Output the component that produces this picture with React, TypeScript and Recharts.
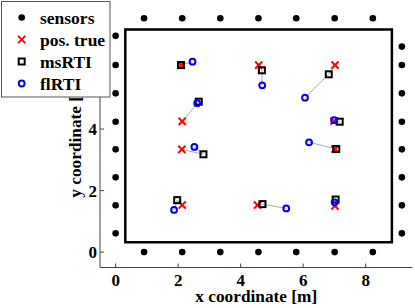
import React from 'react';
import { ScatterChart, Scatter, XAxis, YAxis, ReferenceArea } from 'recharts';

// ---- data ----
const xTicks = [0, 2, 4, 6, 8];
const yTicksLeft = [0, 2, 4];
const yTicksRight = [0, 2, 4, 6];

const sensorRowX = [0.91, 2.13, 3.35, 4.57, 5.78, 7.01, 8.23];
const sensorTopY = 7.6;
const sensorBottomY = 0;
const sensorLeftX = 0;
const sensorLeftY = [0.61, 1.52, 2.43, 3.34, 4.24, 5.16, 6.08, 7.03];
const sensorRightX = 9.16;
const sensorRightY = [0.61, 1.52, 2.43, 3.34, 4.24, 5.16, 6.08, 6.68];

const trueX = [2.1, 4.58, 7.02, 2.13, 6.99, 2.12, 7.02, 2.13, 4.54, 7.02];
const trueY = [6.08, 6.08, 6.08, 4.25, 4.26, 3.34, 3.35, 1.53, 1.53, 1.5];
const msX = [2.09, 4.68, 6.82, 2.66, 7.17, 2.81, 7.06, 1.97, 4.7, 7.04];
const msY = [6.08, 5.91, 5.78, 4.89, 4.24, 3.18, 3.35, 1.69, 1.56, 1.71];
const flX = [2.46, 4.69, 6.06, 2.61, 6.99, 2.52, 6.19, 1.87, 5.46, 7.01];
const flY = [6.19, 5.42, 5.02, 4.84, 4.29, 3.42, 3.57, 1.37, 1.42, 1.62];

const roomBounds = [0.31, 0.32, 8.84, 7.24]; // x1, y1, x2, y2

const legendLabels = ['sensors', 'pos. true', 'msRTI', 'flRTI'];

// ---- derived tables ----
const sensors = [
  ...sensorRowX.map((x) => ({ x, y: sensorTopY })),
  ...sensorRowX.map((x) => ({ x, y: sensorBottomY })),
  ...sensorLeftY.map((y) => ({ x: sensorLeftX, y })),
  ...sensorRightY.map((y) => ({ x: sensorRightX, y })),
];
const truePts = trueX.map((x, i) => ({ x, y: trueY[i] }));
const msPts = msX.map((x, i) => ({ x, y: msY[i] }));
const flPts = flX.map((x, i) => ({ x, y: flY[i] }));
const groups = trueX.map((_, i) => [truePts[i], msPts[i], flPts[i]]);

const FONT = '"Liberation Serif", "Times New Roman", serif';
const AXIS = '#444';
const GAP_X = 6.8;
const GAP_Y = 3;

const Dot = (p: any) => <circle cx={p.cx} cy={p.cy} r={3.3} fill="#000" />;
const Cross = (p: any) => (
  <g stroke="#ff0000" strokeWidth={2}>
    <line x1={p.cx - 3.6} y1={p.cy - 3.6} x2={p.cx + 3.6} y2={p.cy + 3.6} />
    <line x1={p.cx - 3.6} y1={p.cy + 3.6} x2={p.cx + 3.6} y2={p.cy - 3.6} />
  </g>
);
const Square = (p: any) => (
  <rect x={p.cx - 3} y={p.cy - 3} width={6} height={6} fill="none" stroke="#000" strokeWidth={2} />
);
const Ring = (p: any) => <circle cx={p.cx} cy={p.cy} r={2.9} fill="none" stroke="#0000ff" strokeWidth={2} />;
const NoShape = () => <g />;

const BottomTick = (p: any) => {
  const ay = p.y - GAP_X;
  return (
    <g>
      <line x1={p.x} x2={p.x} y1={ay} y2={ay - 4} stroke={AXIS} />
      <text x={p.x} y={p.y} dy="0.71em" textAnchor="middle" fontFamily={FONT} fontWeight="bold" fontSize={17} fill="#000">
        {p.payload.value}
      </text>
    </g>
  );
};
const TopTick = (p: any) => {
  const ay = p.y;
  return <line x1={p.x} x2={p.x} y1={ay} y2={ay + 4} stroke={AXIS} />;
};
const LeftTick = (p: any) => {
  const ax = p.x + GAP_Y;
  return (
    <g>
      <line x1={ax} x2={ax + 4} y1={p.y} y2={p.y} stroke={AXIS} />
      <text x={p.x} y={p.y} dy="0.36em" textAnchor="end" fontFamily={FONT} fontWeight="bold" fontSize={17} fill="#000">
        {p.payload.value}
      </text>
    </g>
  );
};
const RightTick = (p: any) => <line x1={p.x} x2={p.x - 4} y1={p.y} y2={p.y} stroke={AXIS} />;

const XLabel = (p: any) => {
  const vb = p.viewBox;
  return (
    <text x={vb.x + vb.width / 2} y={302} textAnchor="middle" fontFamily={FONT} fontWeight="bold" fontSize={17.3} fill="#000">
      x coordinate [m]
    </text>
  );
};
const YLabel = (p: any) => {
  const vb = p.viewBox;
  const cy = vb.y + vb.height / 2;
  return (
    <text x={81} y={cy} transform={`rotate(-90, 81, ${cy})`} textAnchor="middle" fontFamily={FONT} fontWeight="bold" fontSize={17.3} fill="#000">
      y coordinate [m]
    </text>
  );
};

const legendMarkers = [Dot, Cross, Square, Ring];

export default function App() {
  return (
    <div style={{ position: 'absolute', left: 0, top: 0, width: 415, height: 308, background: '#fff' }}>
      <ScatterChart width={415} height={308} margin={{ top: 6, right: 2.5, bottom: 0, left: 0 }}>
        <XAxis
          xAxisId={0}
          type="number"
          dataKey="x"
          domain={[-0.5, 9.5]}
          ticks={xTicks}
          allowDataOverflow
          height={40.5}
          tickSize={0}
          tickMargin={GAP_X}
          tickLine={false}
          axisLine={{ stroke: AXIS }}
          tick={<BottomTick />}
          label={<XLabel />}
        />
        <XAxis
          xAxisId="top"
          orientation="top"
          type="number"
          dataKey="x"
          domain={[-0.5, 9.5]}
          ticks={xTicks}
          allowDataOverflow
          height={0}
          tickSize={0}
          tickMargin={0}
          tickLine={false}
          axisLine={{ stroke: AXIS }}
          tick={<TopTick />}
        />
        <YAxis
          yAxisId={0}
          type="number"
          dataKey="y"
          domain={[-0.5, 8]}
          ticks={yTicksLeft}
          allowDataOverflow
          width={100}
          tickSize={0}
          tickMargin={GAP_Y}
          tickLine={false}
          axisLine={{ stroke: AXIS }}
          tick={<LeftTick />}
          label={<YLabel />}
        />
        <YAxis
          yAxisId="right"
          orientation="right"
          type="number"
          dataKey="y"
          domain={[-0.5, 8]}
          ticks={yTicksRight}
          allowDataOverflow
          width={0}
          tickSize={0}
          tickMargin={0}
          tickLine={false}
          axisLine={{ stroke: AXIS }}
          tick={<RightTick />}
        />
        <ReferenceArea
          x1={roomBounds[0]}
          y1={roomBounds[1]}
          x2={roomBounds[2]}
          y2={roomBounds[3]}
          fill="none"
          fillOpacity={0}
          stroke="#000"
          strokeWidth={2.5}
          ifOverflow="visible"
        />
        {groups.map((g, i) => (
          <Scatter
            key={'g' + i}
            data={g}
            line={{ stroke: '#a8a8a8', strokeWidth: 1 }}
            shape={<NoShape />}
            isAnimationActive={false}
          />
        ))}
        <Scatter data={sensors} shape={<Dot />} isAnimationActive={false} />
        <Scatter data={truePts} shape={<Cross />} isAnimationActive={false} />
        <Scatter data={msPts} shape={<Square />} isAnimationActive={false} />
        <Scatter data={flPts} shape={<Ring />} isAnimationActive={false} />
      </ScatterChart>
      <svg width={415} height={308} style={{ position: 'absolute', left: 0, top: 0, pointerEvents: 'none' }}>
        <rect x={1.5} y={1.5} width={108.5} height={95.5} fill="#fff" stroke="#555" strokeWidth={1} />
        {legendLabels.map((lab, i) => {
          const M = legendMarkers[i];
          const cy = 17.5 + i * 22;
          return (
            <g key={lab}>
              <M cx={21.7} cy={cy} />
              <text x={40} y={cy + 6} fontFamily={FONT} fontWeight="bold" fontSize={17.5} fill="#000">
                {lab}
              </text>
            </g>
          );
        })}
      </svg>
    </div>
  );
}
